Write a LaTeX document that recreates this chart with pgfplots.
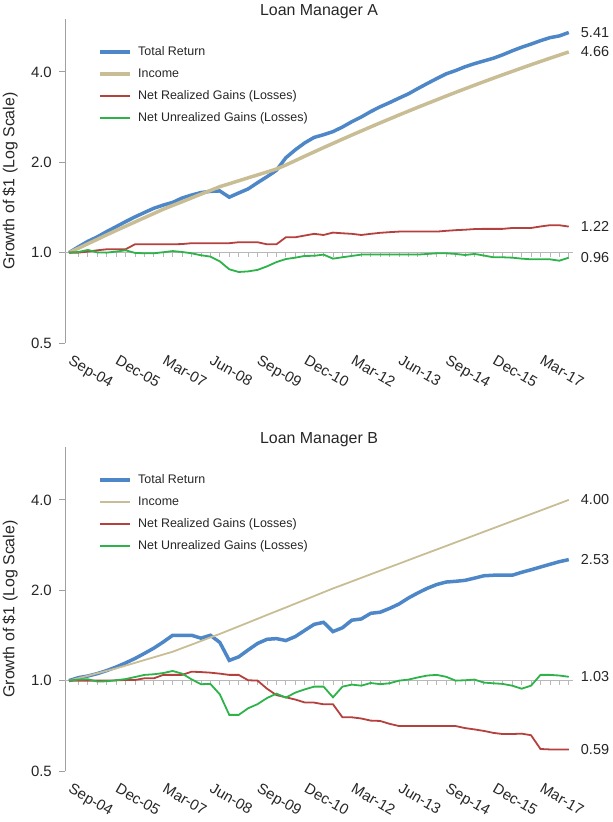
\documentclass[border=0pt]{standalone}
\usepackage{fontspec}
\setmainfont{Liberation Sans}
\usepackage{pgfplots}
\usepackage{pgfplotstable}
\pgfplotsset{compat=1.18}

\definecolor{cTR}{HTML}{4E87C8}
\definecolor{cInc}{HTML}{C8BD95}
\definecolor{cReal}{HTML}{B5413F}
\definecolor{cUnr}{HTML}{2DB34A}
\definecolor{axgray}{HTML}{A0A0A0}
\definecolor{onegray}{HTML}{B8B8B8}

% quarterly growth of $1, Sep-04 = 0
\pgfplotstableread{
q tr inc real unreal
0 1.000 1.000 1.000 1.000
1 1.045 1.034 1.000 1.005
2 1.090 1.070 1.008 1.021
3 1.128 1.107 1.018 1.002
4 1.175 1.146 1.026 1.000
5 1.220 1.185 1.026 1.008
6 1.268 1.224 1.026 1.018
7 1.315 1.265 1.066 0.998
8 1.360 1.307 1.066 0.995
9 1.405 1.350 1.066 0.995
10 1.440 1.395 1.066 1.003
11 1.470 1.436 1.066 1.012
12 1.520 1.477 1.068 1.005
13 1.555 1.521 1.075 0.995
14 1.585 1.566 1.075 0.980
15 1.600 1.611 1.075 0.970
16 1.605 1.659 1.075 0.935
17 1.530 1.696 1.075 0.880
18 1.580 1.735 1.083 0.862
19 1.630 1.775 1.083 0.866
20 1.710 1.815 1.083 0.876
21 1.790 1.856 1.066 0.900
22 1.880 1.899 1.066 0.930
23 2.070 1.958 1.125 0.952
24 2.200 2.025 1.125 0.962
25 2.320 2.095 1.140 0.975
26 2.420 2.165 1.155 0.976
27 2.470 2.238 1.145 0.985
28 2.530 2.311 1.166 0.955
29 2.620 2.387 1.160 0.965
30 2.730 2.464 1.155 0.975
31 2.830 2.542 1.145 0.985
32 2.950 2.623 1.155 0.985
33 3.060 2.705 1.164 0.985
34 3.160 2.788 1.170 0.985
35 3.270 2.874 1.175 0.985
36 3.380 2.960 1.175 0.985
37 3.520 3.049 1.175 0.985
38 3.660 3.138 1.175 0.990
39 3.800 3.229 1.175 0.995
40 3.940 3.323 1.182 0.995
41 4.040 3.418 1.188 0.990
42 4.160 3.514 1.192 0.982
43 4.260 3.611 1.198 0.990
44 4.350 3.710 1.200 0.978
45 4.440 3.810 1.200 0.965
46 4.560 3.912 1.200 0.965
47 4.700 4.014 1.208 0.962
48 4.830 4.119 1.208 0.955
49 4.950 4.225 1.208 0.950
50 5.080 4.332 1.222 0.950
51 5.200 4.440 1.234 0.950
52 5.270 4.549 1.234 0.940
53 5.410 4.659 1.221 0.962
}\mgrA

\pgfplotstableread{
q tr inc real unreal
0 1.000 1.000 1.000 1.000
1 1.023 1.019 1.000 1.008
2 1.036 1.038 1.000 1.011
3 1.055 1.058 1.000 0.993
4 1.080 1.078 1.000 0.995
5 1.110 1.098 1.002 1.003
6 1.145 1.122 1.005 1.012
7 1.185 1.146 1.005 1.028
8 1.232 1.171 1.018 1.045
9 1.283 1.196 1.018 1.050
10 1.345 1.222 1.045 1.060
11 1.416 1.248 1.045 1.077
12 1.416 1.283 1.045 1.055
13 1.416 1.318 1.071 1.010
14 1.385 1.355 1.068 0.973
15 1.416 1.393 1.063 0.975
16 1.340 1.431 1.055 0.900
17 1.168 1.473 1.045 0.769
18 1.200 1.516 1.045 0.769
19 1.265 1.561 1.003 0.809
20 1.330 1.607 1.000 0.835
21 1.373 1.655 0.940 0.875
22 1.380 1.703 0.895 0.905
23 1.360 1.753 0.880 0.878
24 1.402 1.805 0.865 0.912
25 1.470 1.858 0.846 0.935
26 1.540 1.913 0.845 0.955
27 1.564 1.970 0.834 0.955
28 1.457 2.028 0.834 0.880
29 1.500 2.083 0.755 0.955
30 1.590 2.141 0.755 0.970
31 1.605 2.200 0.748 0.962
32 1.676 2.261 0.736 0.982
33 1.690 2.323 0.734 0.973
34 1.740 2.387 0.718 0.980
35 1.800 2.452 0.706 1.000
36 1.885 2.520 0.706 1.008
37 1.960 2.590 0.706 1.025
38 2.030 2.661 0.706 1.040
39 2.090 2.734 0.706 1.045
40 2.130 2.809 0.706 1.030
41 2.142 2.887 0.706 1.000
42 2.158 2.966 0.695 1.003
43 2.195 3.048 0.688 1.008
44 2.235 3.132 0.680 0.985
45 2.244 3.218 0.670 0.980
46 2.244 3.307 0.664 0.975
47 2.244 3.398 0.664 0.962
48 2.295 3.491 0.666 0.940
49 2.340 3.587 0.658 0.962
50 2.390 3.686 0.592 1.045
51 2.440 3.788 0.590 1.045
52 2.490 3.892 0.590 1.040
53 2.530 4.000 0.590 1.030
}\mgrB

\tikzset{vallabel/.style={anchor=west, inner sep=0pt, xshift=12bp, font=\fontsize{14.5}{16}\selectfont, text=black!85}}

\pgfplotsset{
  every axis/.append style={
    scale only axis, width=508bp, height=324bp,
    ymode=log, log basis y=2, ymin=0.5, ymax=6,
    xmin=-0.42, xmax=53.45,
    axis y line*=left, axis x line*=bottom,
    x axis line style={draw=none},
    y axis line style={axgray, line width=1bp},
    xtick={0,5,...,50},
    xticklabels={Sep-04,Dec-05,Mar-07,Jun-08,Sep-09,Dec-10,Mar-12,Jun-13,Sep-14,Dec-15,Mar-17},
    xtick style={draw=none},
    ytick={0.5,1,2,4}, yticklabels={0.5,1.0,2.0,4.0},
    minor y tick num=0,
    ytick style={axgray, line width=1bp},
    tick align=outside, major tick length=6bp,
    ticklabel style={font=\fontsize{15}{17}\selectfont, text=black!85},
    xticklabel style={rotate=-30, anchor=north west, inner sep=0pt, yshift=-3bp, xshift=6bp},
    yticklabel style={inner sep=0pt, xshift=-7bp},
    ylabel={Growth of \$1 (Log Scale)},
    ylabel style={at={(axis description cs:-0.108,0.5)}, anchor=center,
      font=\fontsize{16}{18}\selectfont, text=black!85},
    title style={at={(axis description cs:0.5,1)}, anchor=south, inner sep=0pt, yshift=-6bp,
      font=\fontsize{16}{18}\selectfont, text=black!85},
    legend style={at={(axis description cs:0.066,0.917)}, anchor=north west,
      draw=none, fill=none, inner sep=0pt, row sep=10bp,
      font=\fontsize{12.5}{14}\selectfont, text=black!85,
      nodes={inner sep=0pt, text height=9bp, text depth=3bp}},
    legend cell align=left,
    legend image code/.code={\draw[#1] (0bp,0bp) -- (30bp,0bp); \path (36bp,0bp);},
    clip=false,
  },
}

\begin{document}
\begin{tikzpicture}
\useasboundingbox (0,0) rectangle (613bp,-822bp);

\begin{axis}[at={(65bp,-343bp)}, anchor=south west, title={Loan Manager A}]
\draw[onegray, line width=1.5bp] (axis cs:-0.42,1) -- (axis cs:53.45,1);
\pgfplotsinvokeforeach{1,...,53}{\draw[onegray, line width=0.8bp] (axis cs:#1,1) -- ([yshift=-4.5bp]axis cs:#1,1);}
\addplot[cTR, line width=3.5bp] table[x=q, y=tr] {\mgrA};
\addlegendentry{Total Return}
\addplot[cInc, line width=3.5bp] table[x=q, y=inc] {\mgrA};
\addlegendentry{Income}
\addplot[cReal, line width=1.8bp] table[x=q, y=real] {\mgrA};
\addlegendentry{Net Realized Gains (Losses)}
\addplot[cUnr, line width=1.8bp] table[x=q, y=unreal] {\mgrA};
\addlegendentry{Net Unrealized Gains (Losses)}
\node[vallabel] at (axis cs:53,5.41) {5.41};
\node[vallabel] at (axis cs:53,4.66) {4.66};
\node[vallabel] at (axis cs:53,1.22) {1.22};
\node[vallabel] at (axis cs:53,0.96) {0.96};
\end{axis}

\begin{axis}[at={(65bp,-771bp)}, anchor=south west, title={Loan Manager B}]
\draw[onegray, line width=1.5bp] (axis cs:-0.42,1) -- (axis cs:53.45,1);
\pgfplotsinvokeforeach{1,...,53}{\draw[onegray, line width=0.8bp] (axis cs:#1,1) -- ([yshift=-4.5bp]axis cs:#1,1);}
\addplot[cTR, line width=3.5bp] table[x=q, y=tr] {\mgrB};
\addlegendentry{Total Return}
\addplot[cInc, line width=1.8bp] table[x=q, y=inc] {\mgrB};
\addlegendentry{Income}
\addplot[cReal, line width=1.8bp] table[x=q, y=real] {\mgrB};
\addlegendentry{Net Realized Gains (Losses)}
\addplot[cUnr, line width=1.8bp] table[x=q, y=unreal] {\mgrB};
\addlegendentry{Net Unrealized Gains (Losses)}
\node[vallabel] at (axis cs:53,4.00) {4.00};
\node[vallabel] at (axis cs:53,2.53) {2.53};
\node[vallabel] at (axis cs:53,1.03) {1.03};
\node[vallabel] at (axis cs:53,0.59) {0.59};
\end{axis}
\end{tikzpicture}
\end{document}
